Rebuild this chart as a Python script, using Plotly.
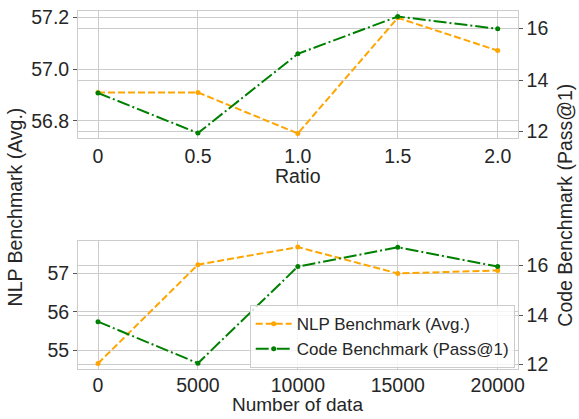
import plotly.graph_objects as go

# ---- data ----
ratio = [0, 0.5, 1.0, 1.5, 2.0]
ratio_labels = ["0", "0.5", "1.0", "1.5", "2.0"]
nlp_ratio = [56.91, 56.91, 56.752, 57.197, 57.071]
code_ratio = [13.50, 11.94, 15.02, 16.47, 15.99]

num_data = [0, 5000, 10000, 15000, 20000]
num_labels = ["0", "5000", "10000", "15000", "20000"]
nlp_num = [54.65, 57.23, 57.69, 57.00, 57.08]
code_num = [13.73, 12.05, 15.96, 16.74, 15.96]

nlp_name = "NLP Benchmark (Avg.)"
code_name = "Code Benchmark (Pass@1)"

ORANGE = "#FFA500"
GREEN = "#008000"
GRID = "#cccccc"
TXT = "#262626"
FONT = "Liberation Sans, Arial, sans-serif"
FS = 19.5

W, H = 579, 419

def line(color, dash):
    return dict(color=color, width=2, dash=dash)

fig = go.Figure()
# top panel
fig.add_trace(go.Scatter(x=ratio, y=nlp_ratio, name=nlp_name, mode="lines+markers",
                         line=line(ORANGE, "7px,3px"), marker=dict(size=5, color=ORANGE),
                         xaxis="x", yaxis="y", showlegend=False))
fig.add_trace(go.Scatter(x=ratio, y=code_ratio, name=code_name, mode="lines+markers",
                         line=line(GREEN, "13px,3px,2px,3px"), marker=dict(size=5, color=GREEN),
                         xaxis="x", yaxis="y2", showlegend=False))
# bottom panel
fig.add_trace(go.Scatter(x=num_data, y=nlp_num, name=nlp_name, mode="lines+markers",
                         line=line(ORANGE, "7px,3px"), marker=dict(size=5, color=ORANGE),
                         xaxis="x2", yaxis="y3"))
fig.add_trace(go.Scatter(x=num_data, y=code_num, name=code_name, mode="lines+markers",
                         line=line(GREEN, "13px,3px,2px,3px"), marker=dict(size=5, color=GREEN),
                         xaxis="x2", yaxis="y4"))

xdom = [79 / W, 524 / W]
top_dom = [1 - 137 / H, 1 - 6 / H]
bot_dom = [1 - 374 / H, 1 - 242.7 / H]

common_x = dict(showline=True, linecolor=GRID, linewidth=1, mirror=True,
                showgrid=True, gridcolor=GRID, gridwidth=1, zeroline=False,
                ticks="", tickfont=dict(size=FS, color=TXT))
common_y = dict(showline=True, linecolor=GRID, linewidth=1,
                showgrid=True, gridcolor=GRID, gridwidth=1, zeroline=False,
                ticks="outside", ticklen=4, tickcolor="#555555", tickwidth=1,
                tickfont=dict(size=FS, color=TXT))

def label(text, x, y, angle=0, size=FS):
    return dict(text=text, x=x / W, y=1 - y / H, xref="paper", yref="paper",
                textangle=angle, showarrow=False, font=dict(size=size, color=TXT),
                xanchor="center", yanchor="middle")

fig.update_layout(
    width=W, height=H,
    margin=dict(l=0, r=0, t=0, b=0),
    paper_bgcolor="white", plot_bgcolor="white",
    font=dict(family=FONT, color=TXT),
    xaxis=dict(domain=xdom, anchor="y", range=[-0.1, 2.1],
               tickvals=ratio, ticktext=ratio_labels, **common_x),
    yaxis=dict(domain=top_dom, anchor="x", range=[56.733, 57.224],
               tickvals=[56.8, 57.0, 57.2], ticktext=["56.8", "57.0", "57.2"], **common_y),
    yaxis2=dict(overlaying="y", side="right", anchor="x", range=[11.735, 16.69],
                tickvals=[12, 14, 16], **common_y),
    xaxis2=dict(domain=xdom, anchor="y3", range=[-1000, 21000],
                tickvals=num_data, ticktext=num_labels, ticklabelstandoff=-2, **common_x),
    yaxis3=dict(domain=bot_dom, anchor="x2", range=[54.50, 57.84],
                tickvals=[55, 56, 57], **common_y),
    yaxis4=dict(overlaying="y3", side="right", anchor="x2", range=[11.81, 16.98],
                tickvals=[12, 14, 16], **common_y),
    legend=dict(x=521 / W, y=1 - 373 / H, xanchor="right", yanchor="bottom",
                bgcolor="rgba(255,255,255,0.8)", bordercolor=GRID, borderwidth=1,
                itemwidth=36, font=dict(size=17, color=TXT)),
    annotations=[
        label("Ratio", 301.5, 176),
        label("Number of data", 301.5, 410, size=19),
        label(nlp_name, 15, 207, -90),
        label(code_name, 571, 206, -90),
    ],
)

fig.write_html("out.html", config={"displayModeBar": False},
               post_script="document.body.style.margin='0';")
